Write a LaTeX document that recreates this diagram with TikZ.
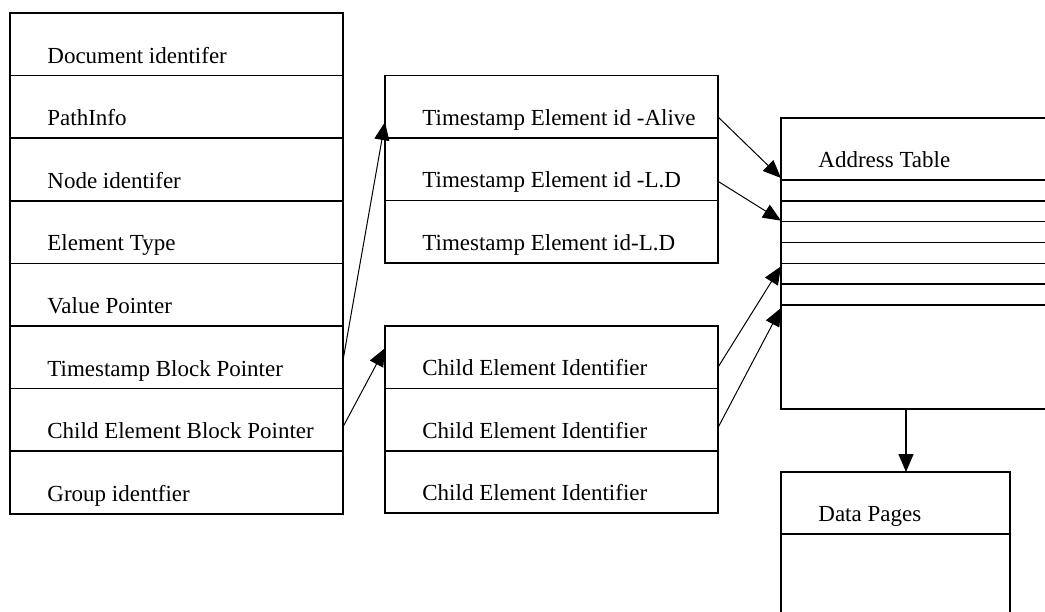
\documentclass[tikz,border=0pt]{standalone}
\usepackage{fontspec}
\setmainfont{Liberation Serif}
\usetikzlibrary{arrows.meta}
\begin{document}
\begin{tikzpicture}[x=0.5pt,y=-0.5pt,
  cell/.style={draw, line width=0.75pt, rectangle, inner sep=0pt, outer sep=0pt, anchor=north west},
  lbl/.style={anchor=base west, inner sep=0pt, font=\fontsize{11.5}{13}\selectfont},
  arr/.style={line width=0.5pt, -{Triangle[length=9pt,width=7.5pt]}}]
\clip (0,0) rectangle (1045,611);
\fill[white] (0,0) rectangle (1045,611);

% element record
\foreach \t [count=\i] in {Document identifer,PathInfo,Node identifer,Element Type,Value Pointer,Timestamp Block Pointer,Child Element Block Pointer,Group identfier}{
  \node[cell, minimum width=166.5pt, minimum height=31.3pt] (L\i) at (10,{13+(\i-1)*62.6}) {};
  \node[lbl] (Lt\i) at ([shift={(37,-12.6)}]L\i.south west) {\t};
}

% timestamp block
\foreach \t [count=\i] in {Timestamp Element id -Alive,Timestamp Element id -L.D,Timestamp Element id-L.D}{
  \node[cell, minimum width=166.5pt, minimum height=31.2pt] (T\i) at (385,{75.7+(\i-1)*62.4}) {};
  \node[lbl] (Tt\i) at ([shift={(37,-12.6)}]T\i.south west) {\t};
}

% child element block
\foreach \i in {1,2,3}{
  \node[cell, minimum width=166.5pt, minimum height=31.2pt] (C\i) at (385,{326+(\i-1)*62.4}) {};
  \node[lbl] (Ct\i) at ([shift={(37,-12.6)}]C\i.south west) {Child Element Identifier};
}

% address table
\node[cell, minimum width=150pt, minimum height=31pt] (A0) at (781,118) {};
\node[lbl] (At) at ([shift={(37,-12.6)}]A0.south west) {Address Table};
\foreach \i in {1,...,6}{
  \node[cell, minimum width=150pt, minimum height=10.415pt] (A\i) at (781,{180+(\i-1)*20.83}) {};
}
\node[cell, minimum width=150pt, minimum height=52pt] (A7) at (781,305) {};

% data pages
\node[cell, minimum width=114.5pt, minimum height=31pt] (D0) at (781,472) {};
\node[lbl] (Dt) at ([shift={(37,-12.6)}]D0.south west) {Data Pages};
\node[cell, minimum width=114.5pt, minimum height=50pt] (D1) at (781,534) {};

% pointers
\draw[arr] ([shift={(0,3)}]L6.east) -- ([shift={(0,-16)}]T1.south west);
\draw[arr] ([shift={(0,7)}]L7.east) -- ([shift={(0,-9)}]C1.west);
\draw[arr] ([shift={(0,10)}]T1.east) -- ([shift={(0,-2)}]A0.south west);
\draw[arr] ([shift={(0,12)}]T2.east) -- ([shift={(0,-1)}]A2.south west);
\draw[arr] ([shift={(0,10)}]C1.east) -- ([shift={(0,3)}]A5.north west);
\draw[arr] ([shift={(0,8)}]C2.east) -- ([shift={(0,3)}]A7.north west);
\coordinate (dp) at ([shift={(10.5,0)}]D0.north);
\draw[arr, line width=0.7pt] (dp |- A7.south) -- (dp);
\end{tikzpicture}
\end{document}
